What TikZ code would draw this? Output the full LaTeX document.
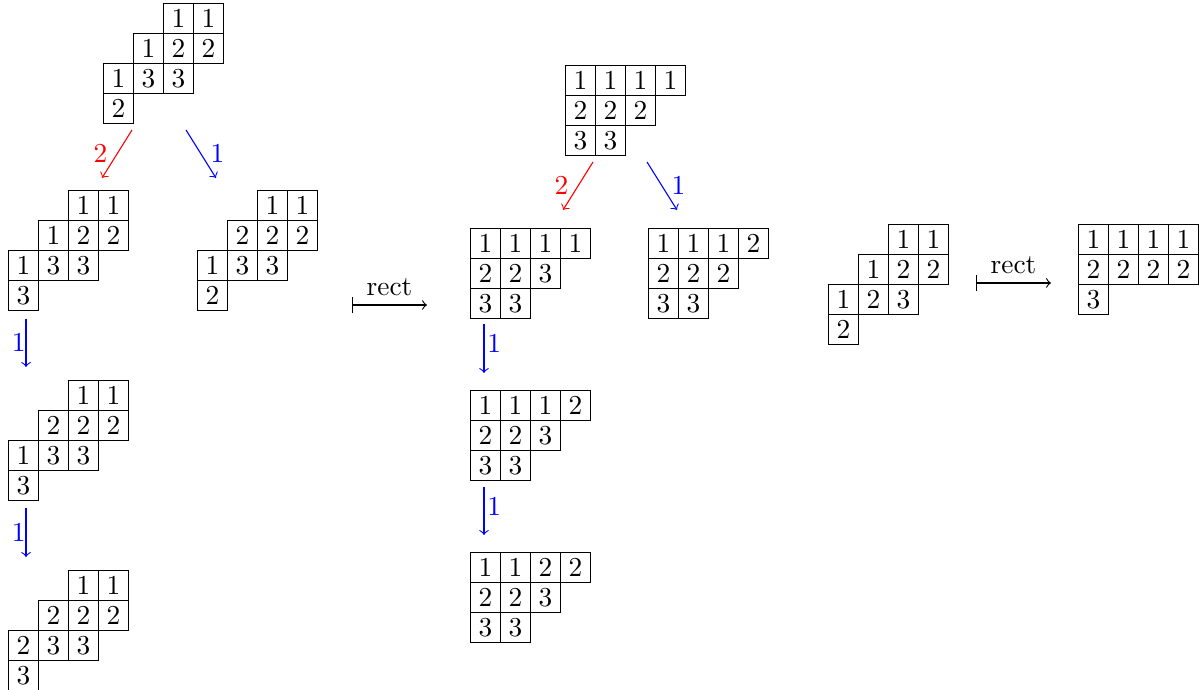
\documentclass[tikz,border=0pt]{standalone}
\usepackage{amsmath}
\usepackage{tikz}

\tikzset{
  box/.style={draw, minimum size=0.385cm, inner sep=0pt, anchor=north west},
  tight/.style={inner sep=1pt},
}

% one row of a tableau: #1 name, #2 row, #3 first column, #4 entries
\newcommand{\yrow}[4]{%
  \foreach \val [count=\col from #3] in {#4}
    \node[box] (#1-#2-\col) at (\col,-#2) {$\val$};%
}

\begin{document}
\begin{tikzpicture}[x=0.385cm,y=0.385cm]
\useasboundingbox (0,0) rectangle (40.133,-23);

% left column
\begin{scope}[shift={(3.433,-0.1)}]
\yrow{s}{0}{2}{1,1}
\yrow{s}{1}{1}{1,2,2}
\yrow{s}{2}{0}{1,3,3}
\yrow{s}{3}{0}{2}
\end{scope}

\begin{scope}[shift={(0.267,-6.333)}]
\yrow{sa}{0}{2}{1,1}
\yrow{sa}{1}{1}{1,2,2}
\yrow{sa}{2}{0}{1,3,3}
\yrow{sa}{3}{0}{3}
\end{scope}

\begin{scope}[shift={(6.567,-6.333)}]
\yrow{sb}{0}{2}{1,1}
\yrow{sb}{1}{1}{2,2,2}
\yrow{sb}{2}{0}{1,3,3}
\yrow{sb}{3}{0}{2}
\end{scope}

\begin{scope}[shift={(0.267,-12.667)}]
\yrow{sc}{0}{2}{1,1}
\yrow{sc}{1}{1}{2,2,2}
\yrow{sc}{2}{0}{1,3,3}
\yrow{sc}{3}{0}{3}
\end{scope}

\begin{scope}[shift={(0.267,-19)}]
\yrow{sd}{0}{2}{1,1}
\yrow{sd}{1}{1}{2,2,2}
\yrow{sd}{2}{0}{2,3,3}
\yrow{sd}{3}{0}{3}
\end{scope}

% middle column
\begin{scope}[shift={(18.833,-2.167)}]
\yrow{r}{0}{0}{1,1,1,1}
\yrow{r}{1}{0}{2,2,2}
\yrow{r}{2}{0}{3,3}
\end{scope}

\begin{scope}[shift={(15.667,-7.6)}]
\yrow{ra}{0}{0}{1,1,1,1}
\yrow{ra}{1}{0}{2,2,3}
\yrow{ra}{2}{0}{3,3}
\end{scope}

\begin{scope}[shift={(21.6,-7.6)}]
\yrow{rb}{0}{0}{1,1,1,2}
\yrow{rb}{1}{0}{2,2,2}
\yrow{rb}{2}{0}{3,3}
\end{scope}

\begin{scope}[shift={(15.667,-13)}]
\yrow{rc}{0}{0}{1,1,1,2}
\yrow{rc}{1}{0}{2,2,3}
\yrow{rc}{2}{0}{3,3}
\end{scope}

\begin{scope}[shift={(15.667,-18.4)}]
\yrow{rd}{0}{0}{1,1,2,2}
\yrow{rd}{1}{0}{2,2,3}
\yrow{rd}{2}{0}{3,3}
\end{scope}

% right pair
\begin{scope}[shift={(27.6,-7.467)}]
\yrow{u}{0}{2}{1,1}
\yrow{u}{1}{1}{1,2,2}
\yrow{u}{2}{0}{1,2,3}
\yrow{u}{3}{0}{2}
\end{scope}

\begin{scope}[shift={(35.933,-7.467)}]
\yrow{v}{0}{0}{1,1,1,1}
\yrow{v}{1}{0}{2,2,2,2}
\yrow{v}{2}{0}{3}
\end{scope}

% arrow ends
\coordinate (s-l0) at (4.4,-4.333);
\coordinate (s-l1) at (3.4,-5.933);
\coordinate (s-r0) at (6.2,-4.333);
\coordinate (s-r1) at (7.2,-5.933);
\coordinate (sa-d0) at (0.867,-10.633);
\coordinate (sa-d1) at (0.867,-12.233);
\coordinate (sc-d0) at (0.867,-16.933);
\coordinate (sc-d1) at (0.867,-18.567);
\coordinate (m1-0) at (11.733,-10.167);
\coordinate (m1-1) at (14.233,-10.167);
\coordinate (r-l0) at (19.767,-5.4);
\coordinate (r-l1) at (18.767,-7.0);
\coordinate (r-r0) at (21.567,-5.4);
\coordinate (r-r1) at (22.567,-7.0);
\coordinate (ra-d0) at (16.133,-10.8);
\coordinate (ra-d1) at (16.133,-12.433);
\coordinate (rc-d0) at (16.133,-16.233);
\coordinate (rc-d1) at (16.133,-17.833);
\coordinate (m2-0) at (32.533,-9.433);
\coordinate (m2-1) at (35.033,-9.433);

\path[->,red] (s-l0) edge node[left] {$2$} (s-l1);
\path[->,blue] (s-r0) edge node[right] {$1$} (s-r1);
\path[->,blue] (sa-d0) edge node[left,inner sep=0pt] {$1$} (sa-d1);
\path[->,blue] (sc-d0) edge node[left,inner sep=0pt] {$1$} (sc-d1);
\path[|->] (m1-0) edge node[above] {rect} (m1-1);

\path[->,red] (r-l0) edge node[left] {$2$} (r-l1);
\path[->,blue] (r-r0) edge node[right] {$1$} (r-r1);
\path[->,blue] (ra-d0) edge node[right,tight,pos=0.4] {$1$} (ra-d1);
\path[->,blue] (rc-d0) edge node[right,tight,pos=0.4] {$1$} (rc-d1);
\path[|->] (m2-0) edge node[above] {rect} (m2-1);

\end{tikzpicture}
\end{document}
